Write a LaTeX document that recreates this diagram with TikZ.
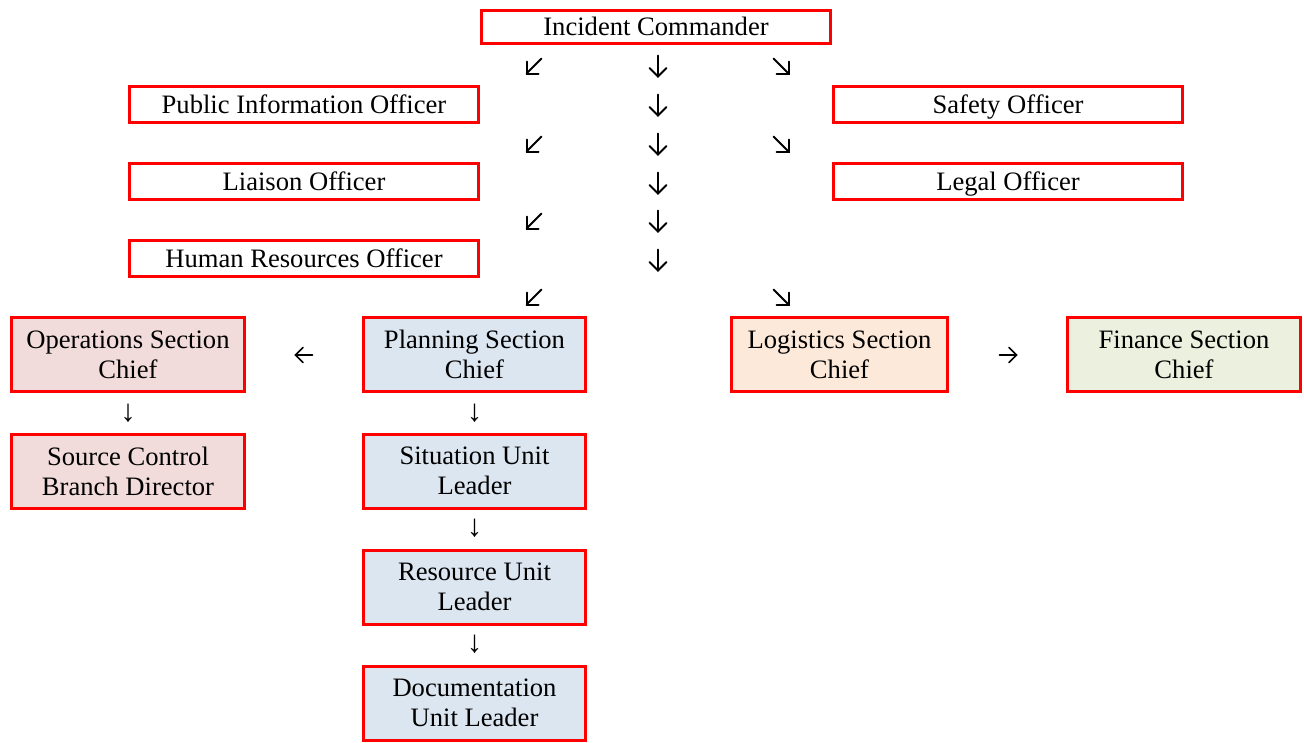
\documentclass[tikz,border=0pt]{standalone}
\usepackage{fontspec}
\setmainfont{Liberation Serif}
\definecolor{opsfill}{HTML}{F2DCDB}
\definecolor{planfill}{HTML}{DCE6F1}
\definecolor{logfill}{HTML}{FDE9D9}
\definecolor{finfill}{HTML}{EBF1DE}
\definecolor{boxred}{HTML}{FF0000}
\tikzset{
  role/.style={draw=boxred, line width=3pt, fill=white, inner sep=0pt,
    align=center, font=\fontsize{26.6}{30}\selectfont},
  wide/.style={role, minimum width=349pt, minimum height=36pt,
    text height=24pt, text depth=6.4pt},
  chief/.style={role, minimum height=74pt, text depth=-4pt},
  glyph/.style={line width=2pt, line cap=round, line join=miter},
  thinarrow/.style={inner sep=0pt, font=\fontsize{31}{31}\selectfont},
  % hand-drawn arrow marks with open chevron heads
  arrowdown/.pic={\draw[glyph] (0,-10.5) -- (0,10.5);
                  \draw[glyph] (-8.5,2) -- (0,10.5) -- (8.5,2);},
  arrowsw/.pic={\draw[glyph] (7.5,-7.5) -- (-7.5,7.5);
                \draw[glyph] (-7.5,-4.5) -- (-7.5,7.5) -- (4.5,7.5);},
  arrowse/.pic={\draw[glyph] (-7.5,-7.5) -- (7.5,7.5);
                \draw[glyph] (7.5,-4.5) -- (7.5,7.5) -- (-4.5,7.5);},
  arrowwest/.pic={\draw[glyph, line width=1.6pt] (8.5,0) -- (-8.5,0);
                  \draw[glyph, line width=1.6pt] (-1,-7.5) -- (-8.5,0) -- (-1,7.5);},
  arroweast/.pic={\draw[glyph, line width=1.6pt] (-8.5,0) -- (8.5,0);
                  \draw[glyph, line width=1.6pt] (1,-7.5) -- (8.5,0) -- (1,7.5);},
}
\begin{document}
\begin{tikzpicture}[x=1pt,y=-1pt]
\useasboundingbox (0,0) rectangle (1304,742);

% command staff
\node[wide, minimum height=33pt] (ic) at (656,27) {Incident Commander};
\node[wide] (pio) at (304,104.5) {Public Information Officer};
\node[wide] (safety) at (1008,104.5) {Safety Officer};
\node[wide] (liaison) at (304,181.5) {Liaison Officer};
\node[wide] (legal) at (1008,181.5) {Legal Officer};
\node[wide] (hr) at (304,258.5) {Human Resources Officer};

% general staff
\node[chief, fill=opsfill, minimum width=233pt] (ops) at (128,354.5) {Operations Section\\Chief};
\node[chief, fill=planfill, minimum width=222pt] (plan) at (474.5,354.5) {Planning Section\\Chief};
\node[chief, fill=logfill, minimum width=216pt] (log) at (839.5,354.5) {Logistics Section\\Chief};
\node[chief, fill=finfill, minimum width=233pt] (fin) at (1184,354.5) {Finance Section\\Chief};

% units
\node[chief, fill=opsfill, minimum width=233pt] (src) at (128,471) {Source Control\\Branch Director};
\node[chief, fill=planfill, minimum width=222pt] (sit) at (474.5,471) {Situation Unit\\Leader};
\node[chief, fill=planfill, minimum width=222pt] (res) at (474.5,587) {Resource Unit\\Leader};
\node[chief, fill=planfill, minimum width=222pt] (doc) at (474.5,703) {Documentation\\Unit Leader};

% arrow marks between the command levels
\foreach \yy in {66,144,221,297} \pic (sw\yy) at (534,\yy) {arrowsw};
\foreach \yy in {66,105,144,183,221,260} \pic (s\yy) at (658,\yy) {arrowdown};
\foreach \yy in {66,144,297} \pic (se\yy) at (781,\yy) {arrowse};
\pic (westmark) at (304,355) {arrowwest};
\pic (eastmark) at (1008,355) {arroweast};

% arrow glyphs below the section chiefs
\node[thinarrow] (opsdown) at (128,413) {↓};
\node[thinarrow] (plandown) at (474.5,413) {↓};
\node[thinarrow] (sitdown) at (474.5,528) {↓};
\node[thinarrow] (resdown) at (474.5,644) {↓};
\end{tikzpicture}
\end{document}
